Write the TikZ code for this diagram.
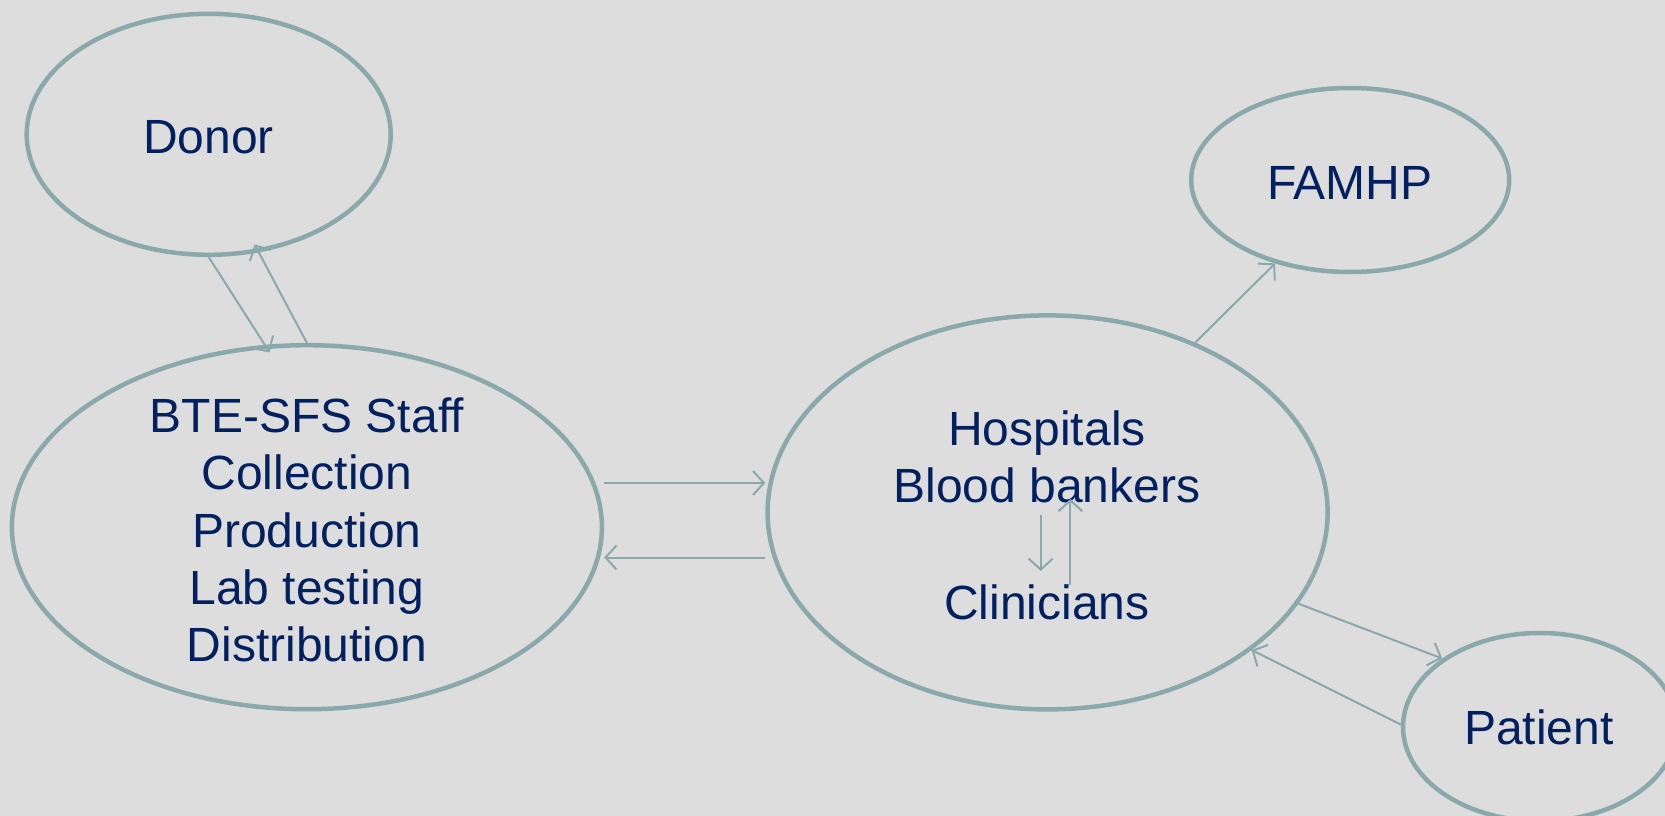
\documentclass[tikz,border=0pt]{standalone}
\usepackage{fontspec}
\setmainfont{Liberation Sans}
\usetikzlibrary{shapes.geometric,arrows.meta}
\definecolor{bgc}{HTML}{DDDDDD}
\definecolor{edgec}{HTML}{8BA9AB}
\definecolor{txtc}{HTML}{002060}
\tikzset{
  oval/.style={ellipse, draw=edgec, line width=4.5pt, inner sep=0pt},
  lbl/.style={text=txtc, font=\fontsize{48}{57.3}\selectfont, align=center, inner sep=0pt},
  link/.style={draw=edgec, line width=2pt, -{Straight Barb[length=11pt,width=24pt,line width=2pt]}},
}
\begin{document}
\begin{tikzpicture}[x=1pt,y=-1pt]
\useasboundingbox (0,0) rectangle (1665,816);
\clip (0,0) rectangle (1665,816);
\fill[bgc] (0,0) rectangle (1665,816);

\node[oval, minimum width=364pt, minimum height=241pt] (donor) at (208.7,134.3) {};
\node[oval, minimum width=590pt, minimum height=364pt] (bte) at (306.9,527.2) {};
\node[oval, minimum width=560pt, minimum height=394pt] (hosp) at (1047.6,512.4) {};
\node[oval, minimum width=318pt, minimum height=184pt] (famhp) at (1350.2,180) {};
\node[oval, minimum width=274pt, minimum height=188pt] (patient) at (1540,727) {};

\node[lbl] (tdonor) at (208.5,137) {Donor};
\node[lbl] (tbte) at (306.9,530) {BTE-SFS Staff\\Collection\\Production\\Lab testing\\Distribution};
\node[lbl] (thosp) at (1047,457) {Hospitals\\Blood bankers};
\node[lbl] (tclin) at (1047,602) {Clinicians};
\node[lbl] (tfamhp) at (1349.7,182.6) {FAMHP};
\node[lbl] (tpatient) at (1538.7,727.4) {Patient};

\coordinate (bbdown1) at (1040.7,515);
\coordinate (bbdown2) at (1040.7,571);
\coordinate (bbup1) at (1070.4,585);
\coordinate (bbup2) at (1070.4,499);
\coordinate (upperlevel) at (0,483);
\coordinate (lowerlevel) at (0,557.5);

\draw[link, shorten >=-9pt] (donor.-90) -- (bte.103.4);
\draw[link, shorten >=-9pt] (bte.90) -- (donor.-67);
\draw[link] (bte.east |- upperlevel) -- (hosp.west |- upperlevel);
\draw[link] (hosp.west |- lowerlevel) -- (bte.east |- lowerlevel);
\draw[link] (hosp.49) -- (famhp.228.3);
\draw[link] (hosp.-20.1) -- (patient.145.8);
\draw[link] (patient.179) -- (hosp.-34.9);
\draw[link] (bbdown1) -- (bbdown2);
\draw[link] (bbup1) -- (bbup2);
\end{tikzpicture}
\end{document}
